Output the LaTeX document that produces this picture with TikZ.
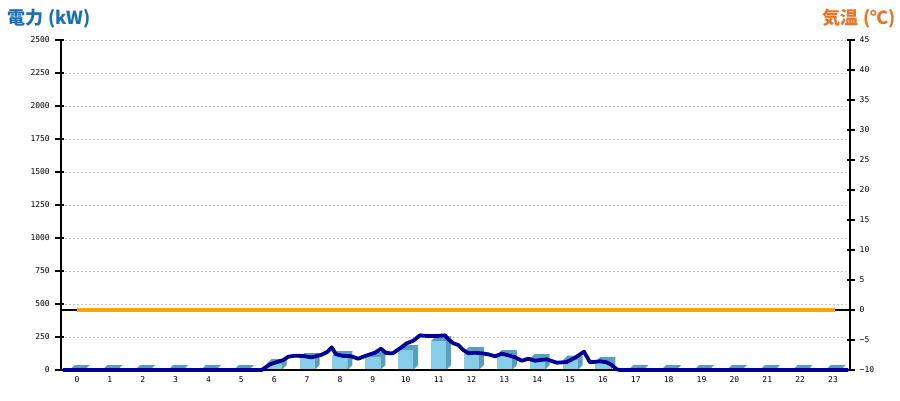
\documentclass[tikz,border=0pt]{standalone}
\usepackage{fontspec}
\setmonofont{DejaVu Sans Mono}
\newfontfamily\cjkb{Noto Sans CJK JP}
\definecolor{ttlblue}{HTML}{1A6FB5}
\definecolor{ttlorange}{HTML}{E8742A}
\definecolor{barfront}{HTML}{87CEEB}
\definecolor{barside}{HTML}{5A9EBD}
\definecolor{pline}{HTML}{000099}
\definecolor{tline}{HTML}{FFA500}
\definecolor{gridc}{HTML}{C4C4C4}
\tikzset{
  ticklbl/.style={font=\ttfamily\fontsize{8}{8}\selectfont, inner sep=0pt},
  gridline/.style={gridc, line width=0.8pt, dash pattern=on 1.8pt off 2.2pt},
  axisline/.style={black, line width=1.4pt},
  tickline/.style={black, line width=1.3pt},
  frontface/.style={fill=barfront},
  sideface/.style={fill=barside},
  powerline/.style={pline, line width=3.8pt, line join=round, line cap=round},
  templine/.style={tline, line width=4pt},
  title/.style={font=\cjkb\bfseries\fontsize{18}{18}\selectfont, inner sep=0pt}
}
\begin{document}
\begin{tikzpicture}[x=1pt,y=-1pt]
\useasboundingbox (0,0) rectangle (900,400);
% titles
\node[title, text=ttlblue, anchor=west] (ttlL) at (7,18.5) {電力\hspace{5pt}(kW)};
\node[title, text=ttlorange, anchor=east] (ttlR) at (896,18.5) {気温\hspace{5pt}(℃)};
% gridlines
\foreach \k in {1,...,10}
  \draw[gridline] (65,{370-33*\k}) -- (846,{370-33*\k});
% bars
\foreach \i/\h in {0/0,1/0,2/0,3/0,4/0,5/0,6/6,7/12,8/14,9/13,10/20,11/29,12/18,13/15,14/11,15/9.5,16/8,17/0,18/0,19/0,20/0,21/0,22/0,23/0}{
  \pgfmathsetmacro\cx{77+32.87*\i}
  \pgfmathsetmacro\ty{370-\h}
  \fill[sideface] ({\cx+7.5},370) -- ({\cx+12.5},365) -- ({\cx+12.5},{\ty-5}) -- ({\cx+7.5},\ty) -- cycle;
  \fill[sideface] ({\cx-7.5},\ty) -- ({\cx-2.5},{\ty-5}) -- ({\cx+12.5},{\ty-5}) -- ({\cx+7.5},\ty) -- cycle;
  \fill[frontface] ({\cx-7.5},370) rectangle ({\cx+7.5},\ty);
}
% axes
\draw[axisline] (61,40) -- (61,370);
\draw[axisline] (850,40) -- (850,370);
\draw[axisline] (61,370) -- (850,370);
\draw[axisline] (61,310) -- (850,310);
% left ticks and labels
\foreach \k in {0,...,10}{
  \pgfmathtruncatemacro\v{250*\k}
  \draw[tickline] (55,{370-33*\k}) -- (64,{370-33*\k});
  \node[ticklbl, anchor=east] (yl\k) at (50,{370-33*\k}) {\v};
}
% right ticks and labels
\foreach \k in {0,...,11}{
  \pgfmathtruncatemacro\tv{-10+5*\k}
  \draw[tickline] (847,{370-30*\k}) -- (855,{370-30*\k});
  \node[ticklbl, anchor=west] (yr\k) at (859.5,{370-30*\k}) {\ifnum\tv<0 −\number\numexpr-\tv\relax\else\tv\fi};
}
% x labels
\foreach \i in {0,...,23}
  \node[ticklbl] (xl\i) at ({77+32.87*\i},379.5) {\i};
% temperature line
\draw[templine] (77,310) -- (835,310);
% power line
\draw[powerline] plot coordinates {(63.3,370) (261.7,370) (270,364.3) (283.3,360) (288.3,356.7) (295,355.7) (303.3,356) (311.7,357.3) (321.7,354.7) (327.3,352) (331.7,347.3) (336,354.3) (343.3,356) (350,356) (358.3,358.7) (365,356) (375,352.7) (381,348.7) (386,353) (392.7,353.3) (400,348.3) (406.7,343.3) (413.3,340.7) (420,335.3) (426.7,336) (436.7,336) (445,335.3) (448.3,339.3) (453.3,343.3) (458.3,345) (463.3,350) (468.3,353.3) (475,352.7) (481.7,353.3) (488.3,354.3) (495,356.3) (501.7,353.7) (508.3,355.3) (515,357.3) (521.7,360.7) (528.3,358.7) (535,360.7) (546.7,359.3) (556.7,362.7) (566.7,362) (575,357.7) (584,351.7) (590,362.3) (600,361.3) (606.7,362.3) (611.7,365) (616.7,369.3) (620,370) (847.7,370)};
\end{tikzpicture}
\end{document}
